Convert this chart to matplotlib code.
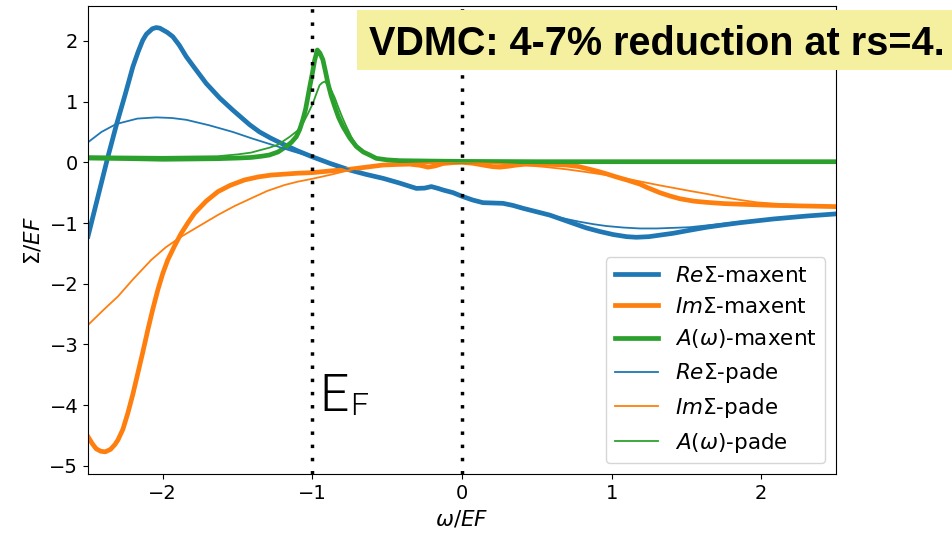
import matplotlib
matplotlib.use("Agg")
import matplotlib.pyplot as plt
from matplotlib.patches import Rectangle

plt.rcParams["font.size"] = 14

# --- self-energy curves (omega / E_F, value / E_F) ---
re_maxent_x = [-2.5, -2.435, -2.368, -2.312, -2.25, -2.20, -2.165, -2.134, -2.11, -2.07,
               -2.044, -2.02, -1.97, -1.933, -1.89, -1.843, -1.78, -1.71, -1.62, -1.532,
               -1.42, -1.353, -1.28, -1.197, -1.1, -1.0, -0.88, -0.751, -0.64, -0.528,
               -0.42, -0.305, -0.25, -0.205, -0.16, -0.127, -0.06, 0.0, 0.07, 0.14,
               0.274, 0.34, 0.408, 0.587, 0.743, 0.83, 0.921, 1.01, 1.10, 1.166,
               1.25, 1.322, 1.41, 1.52, 1.635, 1.75, 1.858, 2.08, 2.304, 2.5]
re_maxent_y = [-1.22, -0.58, 0.08, 0.60, 1.13, 1.575, 1.82, 2.01, 2.11, 2.20,
               2.22, 2.21, 2.14, 2.07, 1.93, 1.74, 1.53, 1.30, 1.06, 0.86,
               0.62, 0.50, 0.40, 0.30, 0.19, 0.09, -0.02, -0.127, -0.20, -0.264,
               -0.34, -0.43, -0.425, -0.40, -0.43, -0.456, -0.50, -0.56, -0.62, -0.665,
               -0.676, -0.71, -0.758, -0.87, -1.005, -1.08, -1.14, -1.19, -1.225, -1.235,
               -1.225, -1.20, -1.17, -1.12, -1.07, -1.03, -0.995, -0.934, -0.885, -0.85]

im_maxent_x = [-2.5, -2.47, -2.445, -2.415, -2.385, -2.35, -2.32, -2.30, -2.267, -2.234,
               -2.20, -2.167, -2.133, -2.10, -2.067, -2.033, -2.0, -1.967, -1.92, -1.877,
               -1.83, -1.788, -1.71, -1.632, -1.55, -1.453, -1.36, -1.275, -1.1, -1.0,
               -0.87, -0.751, -0.64, -0.528, -0.43, -0.35, -0.28, -0.227, -0.18, -0.127,
               -0.06, 0.0, 0.07, 0.14, 0.2, 0.252, 0.31, 0.364, 0.43, 0.5,
               0.6, 0.698, 0.78, 0.854, 0.91, 0.966, 1.03, 1.10, 1.19, 1.233,
               1.322, 1.39, 1.456, 1.55, 1.635, 1.75, 1.858, 2.08, 2.3, 2.5]
im_maxent_y = [-4.52, -4.64, -4.72, -4.76, -4.77, -4.73, -4.65, -4.575, -4.40, -4.135,
               -3.82, -3.476, -3.12, -2.76, -2.42, -2.10, -1.83, -1.61, -1.37, -1.17,
               -0.99, -0.84, -0.64, -0.484, -0.38, -0.29, -0.24, -0.21, -0.18, -0.17,
               -0.14, -0.115, -0.08, -0.045, -0.035, -0.03, -0.05, -0.08, -0.06, -0.02,
               -0.005, 0.0, -0.015, -0.045, -0.07, -0.08, -0.065, -0.045, -0.03, -0.03,
               -0.035, -0.045, -0.07, -0.115, -0.15, -0.19, -0.24, -0.29, -0.36, -0.41,
               -0.50, -0.555, -0.60, -0.64, -0.66, -0.68, -0.69, -0.71, -0.72, -0.73]

a_maxent_x = [-2.5, -2.2, -2.0, -1.8, -1.632, -1.5, -1.41, -1.34, -1.288, -1.23,
              -1.175, -1.14, -1.108, -1.085, -1.064, -1.045, -1.03, -1.015, -1.0, -0.985,
              -0.967, -0.95, -0.93, -0.913, -0.896, -0.875, -0.851, -0.825, -0.796, -0.75,
              -0.706, -0.66, -0.617, -0.573, -0.5, -0.417, -0.2, 0.0, 0.5, 2.5]
a_maxent_y = [0.07, 0.06, 0.05, 0.055, 0.06, 0.07, 0.08, 0.10, 0.12, 0.17,
              0.26, 0.33, 0.42, 0.54, 0.70, 0.88, 1.08, 1.28, 1.47, 1.68,
              1.85, 1.80, 1.69, 1.50, 1.30, 1.10, 0.92, 0.74, 0.59, 0.40,
              0.26, 0.17, 0.12, 0.065, 0.04, 0.027, 0.02, 0.015, 0.01, 0.01]

re_pade_x = [-2.5, -2.41, -2.312, -2.17, -2.044, -1.94, -1.843, -1.69, -1.532, -1.40,
             -1.264, -1.13, -1.0, -0.88, -0.751, -0.64, -0.528, -0.42, -0.305, -0.25,
             -0.205, -0.16, -0.127, -0.06, 0.0, 0.07, 0.14, 0.274, 0.34, 0.408,
             0.587, 0.69, 0.787, 0.88, 0.966, 1.08, 1.19, 1.30, 1.41, 1.52,
             1.635, 1.75, 1.858, 2.08, 2.304, 2.5]
re_pade_y = [0.33, 0.50, 0.63, 0.72, 0.74, 0.73, 0.70, 0.61, 0.50, 0.39,
             0.285, 0.18, 0.09, -0.02, -0.12, -0.19, -0.26, -0.34, -0.42, -0.415,
             -0.40, -0.43, -0.45, -0.50, -0.55, -0.61, -0.66, -0.68, -0.71, -0.76,
             -0.87, -0.93, -0.98, -1.02, -1.05, -1.075, -1.09, -1.09, -1.08, -1.07,
             -1.04, -1.01, -0.98, -0.93, -0.885, -0.85]

im_pade_x = [-2.5, -2.4, -2.30, -2.2, -2.078, -1.98, -1.877, -1.75, -1.632, -1.52,
             -1.409, -1.30, -1.186, -1.10, -0.997, -0.87, -0.751, -0.65, -0.528, -0.42,
             -0.305, -0.15, 0.0, 0.2, 0.408, 0.55, 0.698, 0.83, 0.966, 1.10,
             1.2, 1.322, 1.41, 1.52, 1.635, 1.75, 1.858, 1.97, 2.08, 2.3, 2.5]
im_pade_y = [-2.68, -2.44, -2.21, -1.93, -1.61, -1.40, -1.225, -1.04, -0.868, -0.72,
             -0.593, -0.47, -0.374, -0.32, -0.27, -0.20, -0.127, -0.08, -0.045, -0.03,
             -0.02, -0.01, 0.0, -0.02, -0.045, -0.075, -0.115, -0.16, -0.21, -0.27,
             -0.32, -0.38, -0.42, -0.47, -0.52, -0.575, -0.62, -0.66, -0.68, -0.71, -0.72]

a_pade_x = [-2.5, -2.0, -1.632, -1.5, -1.409, -1.35, -1.288, -1.23, -1.152, -1.10,
            -1.064, -1.03, -0.997, -0.975, -0.952, -0.935, -0.918, -0.895, -0.874, -0.85,
            -0.829, -0.80, -0.773, -0.74, -0.706, -0.66, -0.617, -0.573, -0.5, -0.417,
            0.0, 0.5, 2.5]
a_pade_y = [0.10, 0.09, 0.10, 0.13, 0.16, 0.20, 0.24, 0.29, 0.42, 0.52,
            0.64, 0.80, 0.97, 1.12, 1.27, 1.31, 1.33, 1.28, 1.19, 1.06,
            0.92, 0.74, 0.59, 0.42, 0.28, 0.17, 0.12, 0.065, 0.04, 0.027,
            0.015, 0.01, 0.01]

marker_lines = [-1, 0]
title = "VDMC: 4-7% reduction at rs=4."

fig = plt.figure(figsize=(9.53, 5.39), dpi=100)
ax = fig.add_axes([88 / 953, 1 - 474 / 539, 748 / 953, 468 / 539])

thick, thin = 3.4, 1.3
ax.plot(re_maxent_x, re_maxent_y, color="C0", lw=thick, label=r"$Re\Sigma$-maxent")
ax.plot(im_maxent_x, im_maxent_y, color="C1", lw=thick, label=r"$Im\Sigma$-maxent")
ax.plot(a_maxent_x, a_maxent_y, color="C2", lw=thick, label=r"$A(\omega)$-maxent")
ax.plot(re_pade_x, re_pade_y, color="C0", lw=thin, label=r"$Re\Sigma$-pade")
ax.plot(im_pade_x, im_pade_y, color="C1", lw=thin, label=r"$Im\Sigma$-pade")
ax.plot(a_pade_x, a_pade_y, color="C2", lw=thin, label=r"$A(\omega)$-pade")

for xv in marker_lines:
    ax.axvline(xv, color="black", lw=2.5, linestyle=(0, (1, 2.8)))

ax.set_xlim(-2.5, 2.5)
ax.set_ylim(-5.135, 2.575)
ax.set_xticks([-2, -1, 0, 1, 2])
ax.set_yticks([-5, -4, -3, -2, -1, 0, 1, 2])
ax.set_xlabel(r"$\omega/EF$", fontsize=15.5)
ax.set_ylabel(r"$\Sigma/EF$", fontsize=15.5)
ax.legend(loc="lower right", fontsize=15.5)

# Fermi-level annotation
light = ["Roboto", "DejaVu Sans"]
ax.text(-0.952, -4.10, "E", fontsize=37, fontweight=300, family=light,
        va="baseline", ha="left")
ax.text(-0.75, -4.165, "F", fontsize=23, fontweight=300, family=light,
        va="baseline", ha="left")

# highlighted headline banner
fig.patches.append(Rectangle((357 / 953, 1 - 70 / 539), 596 / 953, 60 / 539,
                             transform=fig.transFigure, facecolor="#f4f0a0",
                             edgecolor="none", zorder=10))
t = fig.text(369 / 953, 1 - 55 / 539, title, fontsize=30, fontweight="bold",
             family=["Liberation Sans Narrow", "Liberation Sans"],
             va="baseline", ha="left", zorder=11)
fig.canvas.draw()
w = t.get_window_extent().width
t.set_fontsize(30 * 575 / w)

fig.savefig("out.png", dpi=100)
